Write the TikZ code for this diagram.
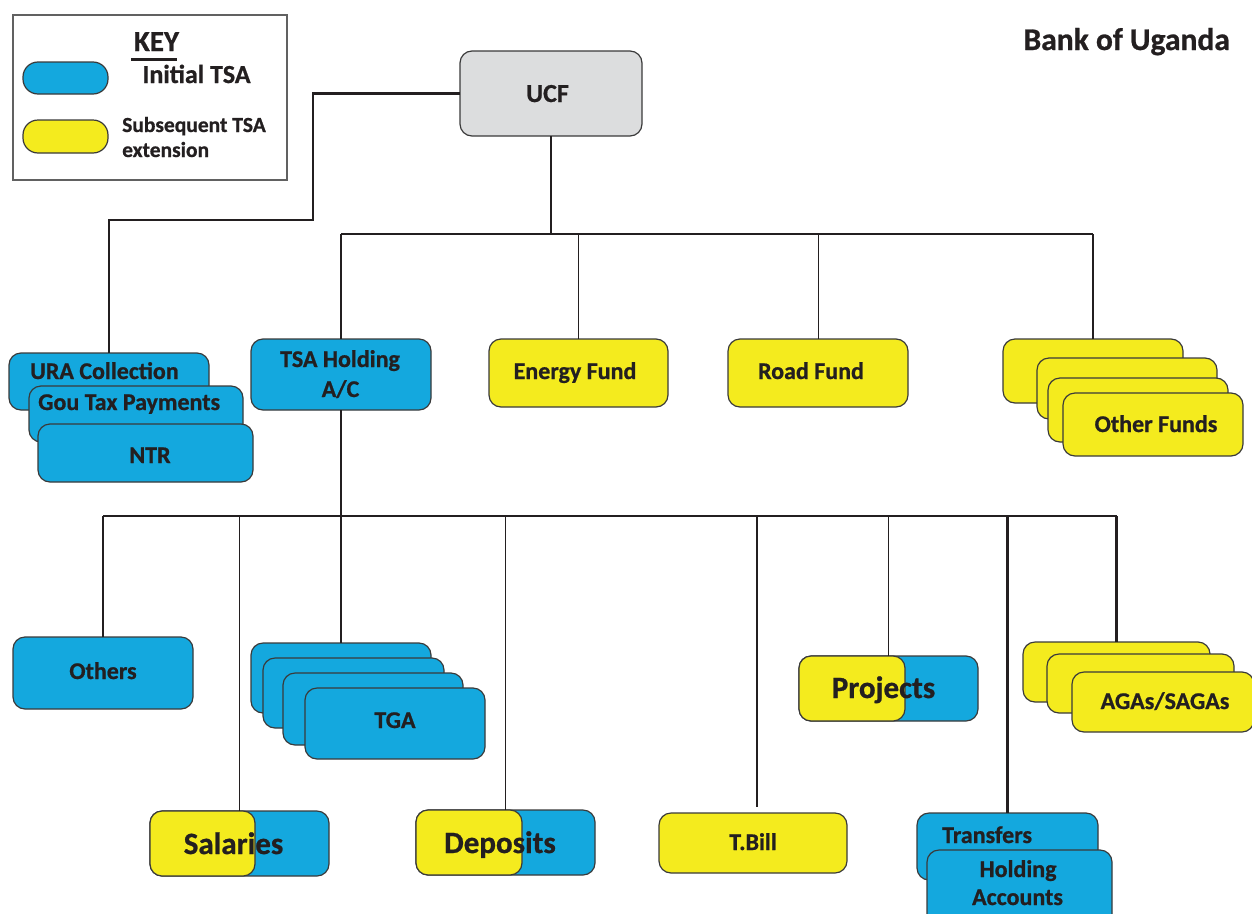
\documentclass[tikz,border=0pt]{standalone}
\usepackage{fontspec}
\setmainfont{Carlito}[BoldFeatures={FakeBold=0.8}]
\definecolor{tsablue}{RGB}{20,168,222}
\definecolor{tsayellow}{RGB}{244,235,30}
\definecolor{ucfgray}{RGB}{220,221,222}
\definecolor{ink}{RGB}{35,31,32}
\definecolor{edge}{RGB}{58,58,58}

% rounded account box given by its corners: name, fill, x1, y1, x2, y2
\newcommand\acctbox[6]{%
  \node[acct,fill=#2,minimum width={#5-#3},minimum height={#6-#4}]
    (#1) at ({(#3+#5)/2},{(#4+#6)/2}) {};}

\tikzset{
  acct/.style={draw=edge,line width=1.2pt,rounded corners=12pt,inner sep=0pt,outer sep=0pt},
  lbl/.style={font=\bfseries\fontsize{24}{28}\selectfont,text=ink,inner sep=0pt,anchor=base},
  biglbl/.style={lbl,font=\bfseries\fontsize{31}{36}\selectfont},
  trunk/.style={draw=ink,line width=2.6pt},
  twig/.style={draw=ink,line width=1pt},
}

\begin{document}
\begin{tikzpicture}[x=1pt,y=-1pt]
\useasboundingbox (0,0) rectangle (1252,913);

% ---------- key ----------
\node[draw=edge!80,line width=1.2pt,minimum width=274pt,minimum height=165pt,inner sep=0pt]
  (keybox) at (150,97.5) {};
\node[acct,fill=tsablue,rounded corners=15pt,minimum width=85pt,minimum height=32pt] (keyblue) at (65.5,78) {};
\node[acct,fill=tsayellow,rounded corners=15pt,minimum width=85pt,minimum height=33pt] (keyyellow) at (65.5,136.5) {};
\node[lbl,font=\bfseries\fontsize{29}{34}\selectfont] (keytitle) at (156.5,51) {KEY};
\draw[draw=ink,line width=3pt] (131,59) -- (177,59);
\node[lbl,font=\bfseries\fontsize{26}{30}\selectfont] (keyinit) at (196.5,83) {Initial TSA};
\node[lbl,anchor=base west,font=\bfseries\fontsize{21.5}{25}\selectfont] (keysub1) at (122,132) {Subsequent TSA};
\node[lbl,anchor=base west,font=\bfseries\fontsize{21.5}{25}\selectfont] (keysub2) at (122,157) {extension};

\node[lbl,anchor=base east,font=\bfseries\fontsize{31.5}{36}\selectfont] (bank) at (1230,50) {Bank of Uganda};

% ---------- top ----------
\acctbox{ucf}{ucfgray}{460}{51}{642}{136}
\node[lbl,font=\bfseries\fontsize{26}{30}\selectfont] (ucftxt) at (547.5,102) {UCF};

% ---------- second row ----------
\acctbox{ura}{tsablue}{9}{353}{209}{410}
\acctbox{gou}{tsablue}{29}{386}{243}{442}
\acctbox{ntr}{tsablue}{38}{424}{253}{482}
\node[lbl,anchor=base west] (uratxt) at (30,379) {URA Collection};
\node[lbl,anchor=base west] (goutxt) at (38,410) {Gou Tax Payments};
\node[lbl] (ntrtxt) at (150,463) {NTR};

\acctbox{tsa}{tsablue}{251}{339}{431}{410}
\node[lbl] (tsatxt1) at (340,367) {TSA Holding};
\node[lbl] (tsatxt2) at (340.5,397) {A/C};

\acctbox{energy}{tsayellow}{489}{339}{668}{407}
\node[lbl] (energytxt) at (575,379) {Energy Fund};

\acctbox{road}{tsayellow}{728}{339}{908}{407}
\node[lbl] (roadtxt) at (811,379) {Road Fund};

\acctbox{of1}{tsayellow}{1003}{339}{1183}{403}
\acctbox{of2}{tsayellow}{1037}{358}{1217}{419}
\acctbox{of3}{tsayellow}{1048}{378}{1228}{442}
\acctbox{of4}{tsayellow}{1063}{393}{1243}{456}
\node[lbl] (oftxt) at (1156,432) {Other Funds};

% ---------- third row ----------
\acctbox{others}{tsablue}{13}{637}{193}{709}
\node[lbl] (otherstxt) at (103,679) {Others};

\acctbox{tga1}{tsablue}{251}{643}{431}{713}
\acctbox{tga2}{tsablue}{263}{658}{444}{728}
\acctbox{tga3}{tsablue}{283}{673}{463}{745}
\acctbox{tga4}{tsablue}{305}{688}{485}{759}
\node[lbl] (tgatxt) at (395,728) {TGA};

\acctbox{projb}{tsablue}{799}{656}{978}{721}
\acctbox{projy}{tsayellow}{799}{656}{905}{721}
\node[biglbl] (projtxt) at (883.5,698) {Projects};

\acctbox{aga1}{tsayellow}{1023}{642}{1210}{702}
\acctbox{aga2}{tsayellow}{1047}{654}{1234}{713}
\acctbox{aga3}{tsayellow}{1072}{672}{1254}{732}
\node[lbl] (agatxt) at (1165,709) {AGAs/SAGAs};

% ---------- bottom row ----------
\acctbox{salb}{tsablue}{150}{811}{329}{876}
\acctbox{saly}{tsayellow}{150}{811}{255}{876}
\node[biglbl] (saltxt) at (233.5,854) {Salaries};

\acctbox{depb}{tsablue}{416}{810}{595}{875}
\acctbox{depy}{tsayellow}{416}{810}{522}{875}
\node[biglbl] (deptxt) at (500,853) {Deposits};

\acctbox{tbill}{tsayellow}{659}{813}{847}{873}
\node[lbl] (tbilltxt) at (753,850) {T.Bill};

\acctbox{trans}{tsablue}{917}{813}{1098}{880}
\acctbox{hold}{tsablue}{927}{850}{1112}{930}
\node[lbl,anchor=base west] (transtxt) at (942,843) {Transfers};
\node[lbl] (holdtxt1) at (1018,877) {Holding};
\node[lbl] (holdtxt2) at (1017.5,905) {Accounts};

% ---------- connectors ----------
\coordinate (kneeA) at (313,220);
\draw[trunk] (ucf.west) -| (kneeA) -| (ura.north);

\coordinate (busA) at (550,234);
\draw[trunk] (ucf.south) -- (ucf.south |- busA);
\draw[trunk] (tsa.north |- busA) -- (of1.north |- busA);
\draw[trunk] (tsa.north |- busA) -- (tsa.north);
\draw[twig]  (energy.north |- busA) -- (energy.north);
\draw[twig]  (road.north |- busA) -- (road.north);
\draw[trunk] (of1.north |- busA) -- (of1.north);

\coordinate (busB) at (341,516);
\coordinate (tbilltop) at ([xshift=4pt,yshift=6pt]tbill.north);
\draw[trunk] (tsa.south) -- (tsa.south |- busB);
\draw[trunk] (others.north |- busB) -- (aga1.north |- busB);
\draw[trunk] (others.north |- busB) -- (others.north);
\draw[twig]  (salb.north |- busB) -- (salb.north);
\draw[trunk] (tga1.north |- busB) -- (tga1.north);
\draw[twig]  (depb.north |- busB) -- (depb.north);
\draw[trunk] (tbilltop |- busB) -- (tbilltop);
\draw[twig]  (projb.north |- busB) -- (projb.north);
\draw[trunk] (trans.north |- busB) -- (trans.north);
\draw[trunk] (aga1.north |- busB) -- (aga1.north);
\end{tikzpicture}
\end{document}
